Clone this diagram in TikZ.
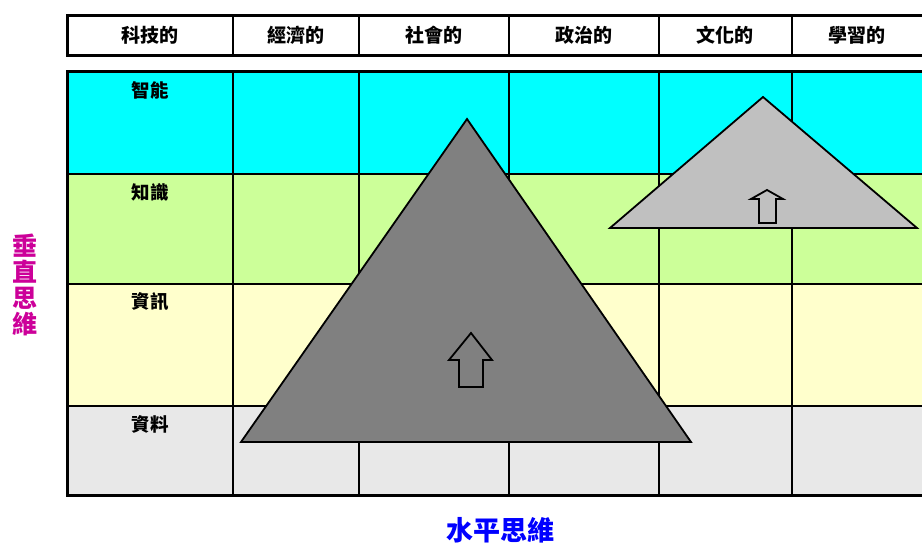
\documentclass[tikz,border=0pt]{standalone}
\usepackage{fontspec}
\newfontfamily\cjk{Noto Sans CJK TC}
\definecolor{rowA}{HTML}{00FFFF}
\definecolor{rowB}{HTML}{CCFF99}
\definecolor{rowC}{HTML}{FFFFCC}
\definecolor{rowD}{HTML}{E8E8E8}
\definecolor{bigtri}{HTML}{808080}
\definecolor{smalltri}{HTML}{C0C0C0}
\definecolor{vlabel}{HTML}{CC0099}
\definecolor{hlabel}{HTML}{0000FF}
\begin{document}
\begin{tikzpicture}[x=1pt,y=-1pt,
  grid/.style={draw=black,line width=1.5pt},
  outer/.style={draw=black,line width=3pt},
  tri/.style={draw=black,line width=1.8pt,line join=miter},
  uparrow/.style={draw=black,line width=1.8pt,line join=miter,fill=none},
  head/.style={font=\cjk\bfseries\fontsize{19}{22}\selectfont,anchor=center,inner sep=0pt},
  rowlab/.style={font=\cjk\bfseries\fontsize{18.5}{21}\selectfont,anchor=center,inner sep=0pt}]
\useasboundingbox (0,0) rectangle (922,545);
% header row
\fill[white] (67,16) rectangle (922,56);
\foreach \x in {233,359,509,659,792} \draw[grid] (\x,16) -- (\x,56);
\draw[outer] (922,16) -- (67,16) -- (67,56) -- (922,56);
\node[head] (h1) at (150,35) {科技的};
\node[head] (h2) at (296,35) {經濟的};
\node[head] (h3) at (434,35) {社會的};
\node[head] (h4) at (584,35) {政治的};
\node[head] (h5) at (725,35) {文化的};
\node[head] (h6) at (857,35) {學習的};
% body rows
\fill[rowA] (67,72) rectangle (922,174);
\fill[rowB] (67,174) rectangle (922,284);
\fill[rowC] (67,284) rectangle (922,406);
\fill[rowD] (67,406) rectangle (922,496);
\foreach \x in {233,359,509,659,792} \draw[grid] (\x,72) -- (\x,496);
\foreach \y in {174,284,406} \draw[grid] (67,\y) -- (922,\y);
\draw[outer] (922,72) -- (67,72) -- (67,496) -- (922,496);
\node[rowlab] (r1) at (150,90) {智能};
\node[rowlab] (r2) at (150,192) {知識};
\node[rowlab] (r3) at (150,302) {資訊};
\node[rowlab] (r4) at (150,424) {資料};
% big triangle
\draw[tri,fill=bigtri] (467,119) -- (691,442) -- (241,442) -- cycle;
\draw[uparrow] (471,333) -- (492,360) -- (483,360) -- (483,387) -- (459,387) -- (459,360) -- (449,360) -- cycle;
% small triangle
\draw[tri,fill=smalltri] (763,97) -- (917,228) -- (610,228) -- cycle;
\draw[uparrow] (767,190) -- (783,199) -- (776,199) -- (776,223) -- (759,223) -- (759,199) -- (751,199) -- cycle;
% axis labels
\node[font=\cjk\bfseries\fontsize{25}{26}\selectfont,text=vlabel,align=center,inner sep=0pt,anchor=center] (vl) at (25,285) {垂\\直\\思\\維};
\node[font=\cjk\bfseries\fontsize{27}{29}\selectfont,text=hlabel,inner sep=0pt,anchor=center] (hl) at (500,530) {水平思維};
\end{tikzpicture}
\end{document}
